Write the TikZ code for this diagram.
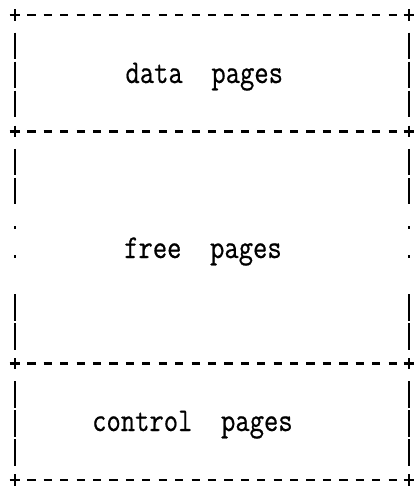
\documentclass[tikz,border=0pt]{standalone}
\usepackage{fontspec}
\usepackage{graphicx}
\newfontfamily\boxfont{Latin Modern Mono}[FakeBold=0.6]
\tikzset{
  rule/.style={line width=2.6pt, line cap=butt, dash pattern=on 8.2pt off 8.22pt},
  corner/.style={line width=2.6pt},
  wall/.style={line width=1.8pt},
  dotmark/.style={fill=black, draw=none},
  pagetext/.style={font=\boxfont\fontsize{27.8}{27.8}\selectfont, inner sep=0pt, anchor=base west},
}
\newcommand\tallword[1]{\scalebox{1}[1.2]{#1}}
\begin{document}
\begin{tikzpicture}[x=1pt,y=-1pt]
\useasboundingbox (0,0) rectangle (417,487);
% character grid: column pitch 16.42, row pitch 29.06, origin at (15,15)
% dashed separators with a plus at each end
\foreach \r in {0,4,12,16}{
  \pgfmathsetmacro\yy{15+29.06*\r}
  \draw[rule] ({15+16.42-4.1},\yy) -- ({15+16.42*23+4.1},\yy);
  \foreach \xx in {15,409.08}{
    \draw[corner] (\xx-5.4,\yy) -- (\xx+5.4,\yy) (\xx,\yy-5.6) -- (\xx,\yy+5.6);
  }
}
% vertical walls, one bar per text row
\foreach \r in {1,2,3,5,6,10,11,13,14,15}{
  \pgfmathsetmacro\yy{15+29.06*\r}
  \foreach \xx in {15,409.08}{
    \draw[wall] (\xx,\yy-11.5) -- (\xx,\yy+15);
  }
}
% dotted stretch of the free area walls
\foreach \r in {7,8}{
  \pgfmathsetmacro\yy{15+29.06*\r}
  \foreach \xx in {15,409.08}{
    \fill[dotmark] (\xx-1.2,\yy+8) rectangle (\xx+1.2,\yy+10.4);
  }
}
% region names
\node[pagetext] (data) at (125.3,83) {\tallword{data\ \ pages}};
\node[pagetext] (free) at (124,258) {\tallword{free\ \ pages}};
\node[pagetext] (ctrl) at (92,431) {\tallword{control\ \ pages}};
\end{tikzpicture}
\end{document}
